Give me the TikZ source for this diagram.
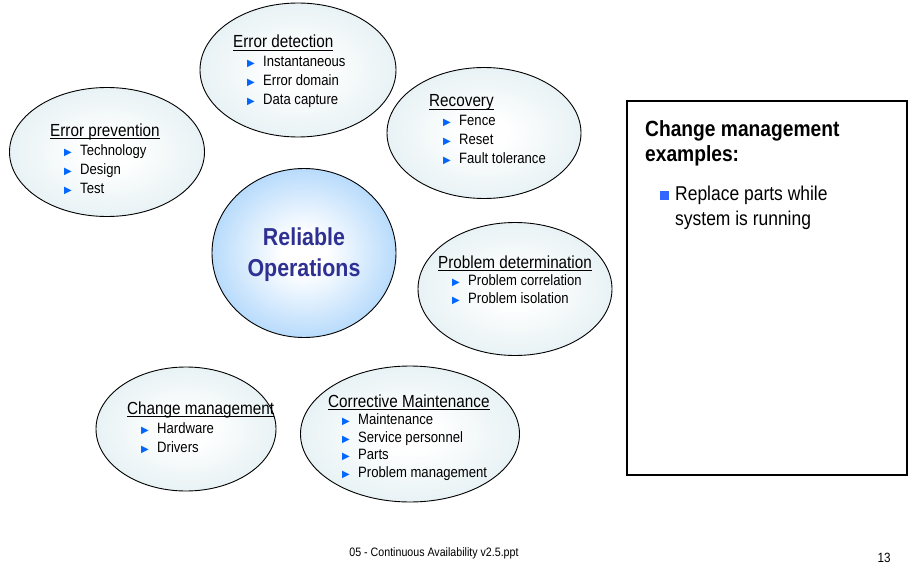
\documentclass[tikz,border=0pt]{standalone}
\usepackage{fontspec}
\setmainfont{Liberation Sans}[FakeStretch=0.873]
\newfontfamily\symfont{DejaVu Sans}
\usetikzlibrary{shapes.geometric}

\definecolor{bubbleedge}{RGB}{216,233,237}
\definecolor{coreedge}{RGB}{150,202,250}
\definecolor{coretext}{RGB}{46,49,146}
\definecolor{arrowblue}{RGB}{0,102,255}
\definecolor{squareblue}{RGB}{51,102,255}

\pgfdeclareradialshading{bubbleglow}{\pgfpointorigin}{color(0bp)=(white); color(6bp)=(white); color(38bp)=(bubbleedge); color(50bp)=(bubbleedge)}
\pgfdeclareradialshading{coreglow}{\pgfpointorigin}{color(0bp)=(white); color(6bp)=(white); color(34bp)=(coreedge); color(50bp)=(coreedge)}

\newcommand{\itm}{\hspace*{14pt}\makebox[16pt][l]{\textcolor{arrowblue}{\symfont\fontsize{10}{10}\selectfont\char"25B6}}}
\newcommand{\ttl}[1]{{\fontsize{17.5}{19}\selectfont\setbox0\hbox{#1}\rlap{\rule[-2.5pt]{\wd0}{0.9pt}}\box0}\\}

\begin{document}
\begin{tikzpicture}[x=1pt,y=-1pt,
  bubble/.style={ellipse, draw, line width=0.9pt, shading=bubbleglow, inner sep=0pt},
  topic/.style={anchor=base west, inner sep=0pt, align=left, font=\fontsize{15}{19}\selectfont}]
\useasboundingbox (0,0) rectangle (910,567);

% the nodes with anchor=base west sit on their last line
\node (det) at (298,70) [bubble, minimum width=196pt, minimum height=134pt] {};
\node (detT) at (233,105) [topic] {\ttl{Error detection}\itm Instantaneous\\\itm Error domain\\\itm Data capture};

\node (prev) at (107,152) [bubble, minimum width=195pt, minimum height=129pt] {};
\node (prevT) at (50,193) [topic] {\ttl{Error prevention}\itm Technology\\\itm Design\\\itm Test};

\node (rec) at (484,133) [bubble, minimum width=194pt, minimum height=131pt] {};
\node (recT) at (429,164) [topic] {\ttl{Recovery}\itm Fence\\\itm Reset\\\itm Fault tolerance};

\node (core) at (304,253) [ellipse, draw, line width=0.9pt, shading=coreglow, inner sep=0pt, minimum width=184pt, minimum height=169pt] {};
\node (coreT) at (304,255) [align=center, inner sep=0pt, text=coretext, font=\bfseries\fontsize{24.5}{31}\selectfont] {Reliable\\Operations};

\node (pd) at (515,289) [bubble, minimum width=194pt, minimum height=133pt] {};
\node (pdT) at (438,303) [topic, font=\fontsize{15}{17.5}\selectfont] {\ttl{Problem determination}\itm Problem correlation\\\itm Problem isolation};

\node (chg) at (186,429) [bubble, minimum width=180pt, minimum height=124pt] {};
\node (chgT) at (127,452) [topic] {\ttl{Change management}\itm Hardware\\\itm Drivers};

\node (cor) at (410,434) [bubble, minimum width=219pt, minimum height=136pt] {};
\node (corT) at (328,477) [topic, font=\fontsize{15}{17.5}\selectfont] {\ttl{Corrective Maintenance}\itm Maintenance\\\itm Service personnel\\\itm Parts\\\itm Problem management};

\node (ex) at (767,288) [draw, line width=2.7pt, minimum width=280pt, minimum height=374pt] {};
\node (exH) at (645,161) [anchor=base west, inner sep=0pt, align=left, font=\bfseries\fontsize{22}{25}\selectfont] {Change management\\examples:};
\node (exB) at (660,225) [anchor=base west, inner sep=0pt, align=left, font=\fontsize{20}{25}\selectfont] {\textcolor{squareblue}{\rule{9pt}{9pt}}\hspace{6pt}Replace parts while\\\hspace*{15pt}system is running};

\node (foot) at (434,553) [font=\fontsize{12.2}{14}\selectfont] {05 - Continuous Availability v2.5.ppt};
\node (page) at (884,558) [font=\fontsize{13.4}{15}\selectfont] {13};
\end{tikzpicture}
\end{document}
